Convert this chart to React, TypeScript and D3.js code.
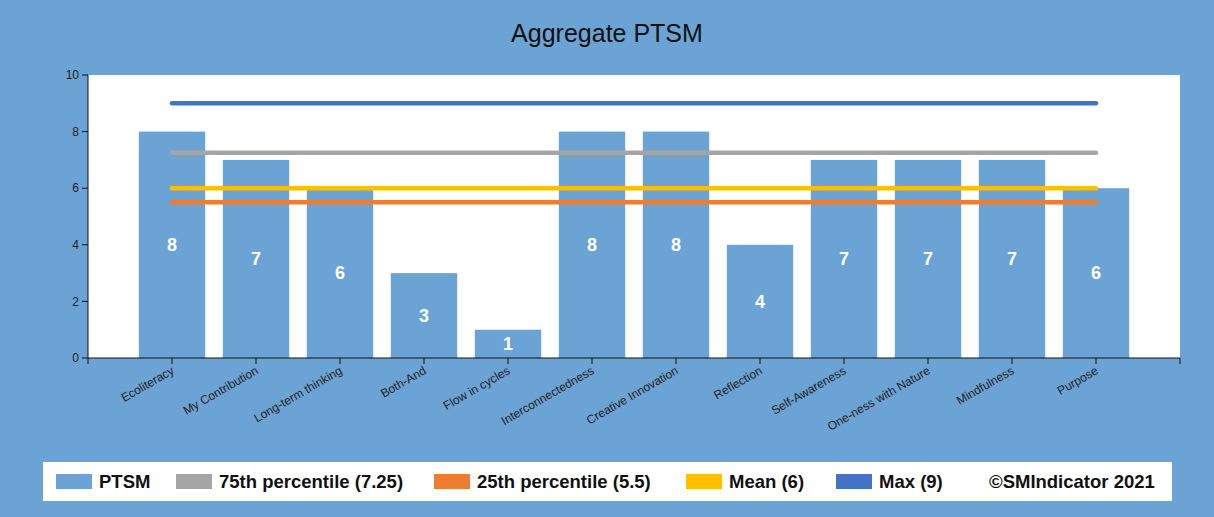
import React from "react";
import * as d3 from "d3";

const categories = [
  "Ecoliteracy", "My Contribution", "Long-term thinking", "Both-And", "Flow in cycles",
  "Interconnectedness", "Creative Innovation", "Reflection", "Self-Awareness",
  "One-ness with Nature", "Mindfulness", "Purpose",
];
const ptsmValues = [8, 7, 6, 3, 1, 8, 8, 4, 7, 7, 7, 6];
const yTicks = [0, 2, 4, 6, 8, 10];
const refLabels = ["75th percentile (7.25)", "25th percentile (5.5)", "Mean (6)", "Max (9)"];
const refValues = [7.25, 5.5, 6, 9];
const refColors = ["#a5a5a5", "#ed7d31", "#ffc000", "#4472c4"];
const refDrawOrder = [3, 0, 2, 1];

const W = 1214, H = 517;
const BG = "#6ca3d5";
const BAR = "#6ca3d5";

export default function App() {
  const left = 88, right = 1180, top = 75, bottom = 358;
  const x = d3.scalePoint<string>().domain(["", ...categories, " "]).range([left, right]).padding(0);
  const xc = (i: number) => x(categories[i]) as number;
  const step = x.step();
  const y = d3.scaleLinear().domain([0, 10]).range([bottom, top]);
  const barW = step * 0.79;

  const legendItems = [
    { label: "PTSM", color: BAR, x: 56 },
    { label: refLabels[0], color: refColors[0], x: 176 },
    { label: refLabels[1], color: refColors[1], x: 434 },
    { label: refLabels[2], color: refColors[2], x: 686 },
    { label: refLabels[3], color: refColors[3], x: 836 },
  ];

  const tickXs = x.domain().map((d) => x(d) as number);

  return (
    <svg width={W} height={H} style={{ position: "absolute", left: 0, top: 0 }} fontFamily="Arial, 'Liberation Sans', sans-serif">
      <rect x={0} y={0} width={W} height={H} fill={BG} />
      <text x={607} y={42} textAnchor="middle" fontSize={25} fill="#111">Aggregate PTSM</text>
      <rect x={left} y={top} width={right - left} height={bottom - top} fill="#fff" />
      {ptsmValues.map((v, i) => (
        <rect key={i} x={xc(i) - barW / 2} y={y(v)} width={barW} height={y(0) - y(v)} fill={BAR} />
      ))}
      {refDrawOrder.map((k) => (
        <line key={k} x1={xc(0)} x2={xc(categories.length - 1)} y1={y(refValues[k])} y2={y(refValues[k])}
          stroke={refColors[k]} strokeWidth={4.5} strokeLinecap="round" />
      ))}
      {ptsmValues.map((v, i) => (
        <text key={i} x={xc(i)} y={(y(v) + y(0)) / 2} dy="0.35em" textAnchor="middle" fill="#fff"
          fontWeight="bold" fontSize={18}>{v}</text>
      ))}
      {/* y axis */}
      <line x1={left} x2={left} y1={top} y2={bottom} stroke="#111" strokeWidth={1} />
      {yTicks.map((t) => (
        <g key={t}>
          <line x1={left - 6} x2={left} y1={y(t)} y2={y(t)} stroke="#111" />
          <text x={left - 9} y={y(t)} dy="0.35em" textAnchor="end" fontSize={12} fill="#222">{t}</text>
        </g>
      ))}
      {/* x axis */}
      <line x1={left} x2={right} y1={bottom} y2={bottom} stroke="#111" />
      {tickXs.map((tx, i) => (
        <line key={i} x1={tx} x2={tx} y1={bottom} y2={bottom + 6} stroke="#111" />
      ))}
      {categories.map((c, i) => (
        <text key={c} transform={`translate(${xc(i) + 3},${bottom + 15}) rotate(-30)`} textAnchor="end"
          fontSize={12} fill="#222">{c}</text>
      ))}
      {/* legend */}
      <rect x={43} y={462} width={1129} height={39} fill="#fff" />
      {legendItems.map((it) => (
        <g key={it.label}>
          <rect x={it.x} y={474} width={36} height={15} fill={it.color} />
          <text x={it.x + 43} y={481.5} dy="0.35em" fontSize={18.5} fontWeight="bold" fill="#111">{it.label}</text>
        </g>
      ))}
      <text x={989} y={481.5} dy="0.35em" fontSize={18.5} fontWeight="bold" fill="#111">©SMIndicator 2021</text>
    </svg>
  );
}
